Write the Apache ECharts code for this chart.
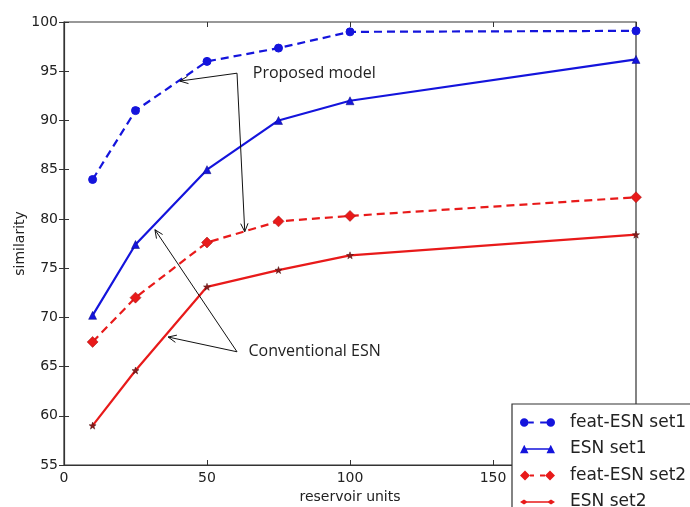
<!DOCTYPE html>
<html>
<head>
<meta charset="utf-8">
<script src="https://cdn.jsdelivr.net/npm/echarts@6/dist/echarts.min.js"></script>
<style>
html,body{margin:0;padding:0;background:#fff;}
#chart{width:690px;height:507px;}
</style>
</head>
<body>
<div id="chart"></div>
<script>
// ---- data ----
const reservoirUnits = [10, 25, 50, 75, 100, 200];
const featEsnSet1 = [84.0, 91.0, 96.0, 97.35, 99.0, 99.1];
const esnSet1 = [70.2, 77.4, 85.0, 90.0, 92.0, 96.2];
const featEsnSet2 = [67.5, 72.0, 77.6, 79.75, 80.3, 82.2];
const esnSet2 = [59.0, 64.6, 73.1, 74.8, 76.3, 78.4];
const seriesNames = ['feat-ESN set1', 'ESN set1', 'feat-ESN set2', 'ESN set2'];
const xTicks = [0, 50, 100, 150, 200];
const yTicks = [55, 60, 65, 70, 75, 80, 85, 90, 95, 100];
const xLabel = 'reservoir units';
const yLabel = 'similarity';
// annotations: label, text anchor (data), arrow corner (data), arrow heads (data)
const annotProposed = { text: 'Proposed model', at: [66, 94.8], corner: [60.5, 94.8], heads: [[40.5, 94.0], [63.2, 78.7]] };
const annotConventional = { text: 'Conventional ESN', at: [64.5, 66.5], corner: [60.5, 66.5], heads: [[31.8, 78.9], [36.4, 68.0]] };

const BLUE = '#1414dc';
const RED = '#e81a1a';
const STAR_FILL = '#8a1c1c';
const starPath = 'path://M0,-10 L2.35,-3.24 9.51,-3.09 3.8,1.24 5.88,8.09 0,4 -5.88,8.09 -3.8,1.24 -9.51,-3.09 -2.35,-3.24Z';

function pairs(ys) { return reservoirUnits.map((x, i) => [x, ys[i]]); }

// legend icons (matplotlib style: marker at both ends)
const iconFeat1 = 'path://M1,5 A4,4 0 1,1 9,5 A4,4 0 1,1 1,5 Z M9,4 L14,4 L14,6 L9,6 Z M20,4 L28,4 L28,6 L20,6 Z M26,5 A4,4 0 1,1 34,5 A4,4 0 1,1 26,5 Z';
const iconEsn1 = 'path://M1,9 L5,1 L9,9 Z M5,4.3 L30,4.3 L30,5.7 L5,5.7 Z M26,9 L30,1 L34,9 Z';
const iconFeat2 = 'path://M0,5 L5,0 L10,5 L5,10 Z M10,4 L14,4 L14,6 L10,6 Z M20,4 L25,4 L25,6 L20,6 Z M25,5 L30,0 L35,5 L30,10 Z';
const iconEsn2 = 'path://M0,5 L4,2.6 L8,5 L4,7.4 Z M4,4.2 L31,4.2 L31,5.8 L4,5.8 Z M27,5 L31,2.6 L35,5 L31,7.4 Z';

const chart = echarts.init(document.getElementById('chart'));
const axisColor = '#333';
const labelStyle = { fontFamily: 'DejaVu Sans', fontSize: 14, color: '#222' };
const legendItem = (name, icon, color) => ({ name, icon, itemStyle: { color, borderWidth: 0, borderColor: color } });

const option = {
  animation: false,
  backgroundColor: '#fff',
  grid: { left: 64, right: 54, top: 22, bottom: 42, outerBoundsMode: 'none', containLabel: false, show: true, borderColor: axisColor, borderWidth: 1.2, backgroundColor: 'transparent' },
  legend: {
    orient: 'vertical', left: 512, top: 404, height: 130, width: 200,
    padding: [10, 8, 10, 8],
    backgroundColor: '#fff', borderColor: '#333', borderWidth: 1.2, borderRadius: 0,
    itemWidth: 35, itemHeight: 10, itemGap: 9.5,
    textStyle: { fontFamily: 'DejaVu Sans', fontSize: 17, color: '#222', padding: [0, 0, 0, 10] },
    data: [
      legendItem(seriesNames[0], iconFeat1, BLUE),
      legendItem(seriesNames[1], iconEsn1, BLUE),
      legendItem(seriesNames[2], iconFeat2, RED),
      legendItem(seriesNames[3], iconEsn2, RED)
    ],
    z: 20
  },
  xAxis: [
    {
      type: 'value', min: xTicks[0], max: xTicks[xTicks.length - 1], interval: xTicks[1] - xTicks[0],
      name: xLabel, nameLocation: 'middle', nameGap: 20,
      nameTextStyle: { fontFamily: 'DejaVu Sans', fontSize: 14, color: '#222' },
      axisLine: { show: true, lineStyle: { color: axisColor, width: 1.2 } },
      axisTick: { show: true, inside: true, length: 5, lineStyle: { color: axisColor } },
      axisLabel: Object.assign({ margin: 6, showMinLabel: true, showMaxLabel: true }, labelStyle),
      splitLine: { show: false }
    },
    {
      type: 'value', position: 'top', min: xTicks[0], max: xTicks[xTicks.length - 1], interval: xTicks[1] - xTicks[0],
      axisLine: { show: false }, axisLabel: { show: false },
      axisTick: { show: true, inside: true, length: 5, lineStyle: { color: axisColor } },
      splitLine: { show: false }
    }
  ],
  yAxis: [
    {
      type: 'value', min: yTicks[0], max: yTicks[yTicks.length - 1], interval: yTicks[1] - yTicks[0],
      name: yLabel, nameLocation: 'middle', nameGap: 37, nameMoveOverlap: false,
      nameTextStyle: { fontFamily: 'DejaVu Sans', fontSize: 14, color: '#222' },
      axisLine: { show: true, lineStyle: { color: axisColor, width: 1.2 } },
      axisTick: { show: true, inside: true, length: 5, lineStyle: { color: axisColor } },
      axisLabel: Object.assign({ margin: 6 }, labelStyle),
      splitLine: { show: false }
    },
    {
      type: 'value', position: 'right', min: yTicks[0], max: yTicks[yTicks.length - 1], interval: yTicks[1] - yTicks[0],
      axisLine: { show: false }, axisLabel: { show: false },
      axisTick: { show: true, inside: true, length: 5, lineStyle: { color: axisColor } },
      splitLine: { show: false }
    }
  ],
  series: [
    {
      name: seriesNames[0], type: 'line', data: pairs(featEsnSet1),
      symbol: 'circle', symbolSize: 8,
      lineStyle: { color: BLUE, width: 2.2, type: [8, 5] },
      itemStyle: { color: BLUE, borderColor: BLUE }
    },
    {
      name: seriesNames[1], type: 'line', data: pairs(esnSet1),
      symbol: 'triangle', symbolSize: 8,
      lineStyle: { color: BLUE, width: 2.2 },
      itemStyle: { color: BLUE, borderColor: '#0a0a80', borderWidth: 0.5 }
    },
    {
      name: seriesNames[2], type: 'line', data: pairs(featEsnSet2),
      symbol: 'diamond', symbolSize: 11,
      lineStyle: { color: RED, width: 2.2, type: [8, 5] },
      itemStyle: { color: RED, borderColor: '#a01010', borderWidth: 0.5 }
    },
    {
      name: seriesNames[3], type: 'line', data: pairs(esnSet2),
      symbol: starPath, symbolSize: 7,
      lineStyle: { color: RED, width: 2.2 },
      itemStyle: { color: STAR_FILL, borderColor: '#4a1010', borderWidth: 0.5 }
    }
  ]
};
chart.setOption(option);

function px(p) { return chart.convertToPixel({ xAxisIndex: 0, yAxisIndex: 0 }, p); }
function arrow(from, to) {
  const els = [];
  els.push({ type: 'line', shape: { x1: from[0], y1: from[1], x2: to[0], y2: to[1] }, style: { stroke: '#111', lineWidth: 1 }, z: 30 });
  const ang = Math.atan2(to[1] - from[1], to[0] - from[0]);
  const L = 9, a = 0.42;
  const p1 = [to[0] - L * Math.cos(ang - a), to[1] - L * Math.sin(ang - a)];
  const p2 = [to[0] - L * Math.cos(ang + a), to[1] - L * Math.sin(ang + a)];
  els.push({ type: 'polyline', shape: { points: [p1, to, p2] }, style: { stroke: '#111', lineWidth: 1, fill: null }, z: 30 });
  return els;
}
function annot(a) {
  let els = [];
  const c = px(a.corner);
  a.heads.forEach(h => { els = els.concat(arrow(c, px(h))); });
  const t = px(a.at);
  els.push({ type: 'text', x: t[0], y: t[1], style: { text: a.text, fontFamily: 'Open Sans', fontSize: 16, fill: '#222', verticalAlign: 'middle', align: 'left' }, z: 30 });
  return els;
}
chart.setOption({ graphic: { elements: annot(annotProposed).concat(annot(annotConventional)) } });
</script>
</body>
</html>
